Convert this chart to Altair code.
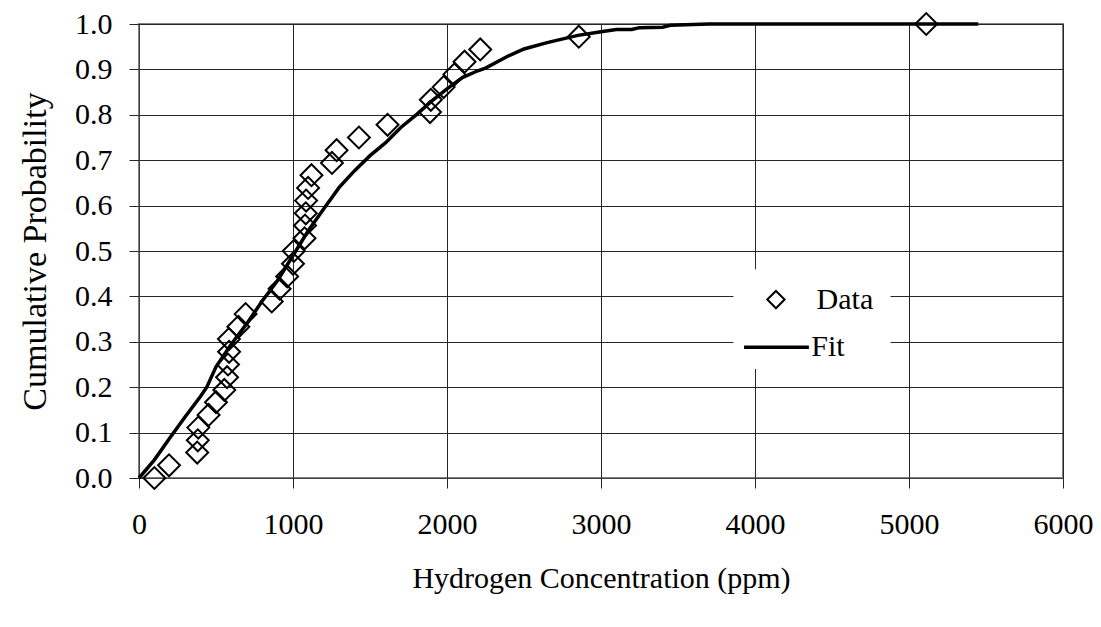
import altair as alt
import pandas as pd

# Data series
data_x = [100, 195, 378, 382, 385, 452, 500, 554, 572, 578, 585, 584, 645, 692,
          862, 913, 962, 1000, 1005, 1075, 1078, 1083, 1085, 1098, 1120, 1253,
          1283, 1428, 1614, 1890, 1895, 1978, 2048, 2114, 2216, 2856, 5112]
data_y = [0.000, 0.028, 0.056, 0.083, 0.111, 0.139, 0.167, 0.194, 0.222, 0.250,
          0.278, 0.306, 0.333, 0.361, 0.389, 0.417, 0.444, 0.472, 0.500, 0.528,
          0.556, 0.583, 0.611, 0.639, 0.667, 0.694, 0.722, 0.750, 0.778, 0.806,
          0.833, 0.861, 0.889, 0.917, 0.944, 0.972, 1.000]

fit_x = [0, 100, 200, 300, 400, 440, 500, 600, 700, 800, 900, 1000, 1100, 1200,
         1300, 1400, 1500, 1600, 1700, 1800, 1900, 2000, 2100, 2200, 2250, 2400,
         2500, 2650, 2850, 3000, 3100, 3200, 3250, 3400, 3450, 3700, 5450]
fit_y = [0.0, 0.04, 0.088, 0.135, 0.18, 0.2, 0.245, 0.295, 0.34, 0.39, 0.435,
         0.49, 0.545, 0.593, 0.64, 0.677, 0.71, 0.738, 0.772, 0.80, 0.83, 0.857,
         0.882, 0.897, 0.903, 0.93, 0.945, 0.959, 0.975, 0.983, 0.988, 0.988,
         0.992, 0.993, 0.997, 1.0, 1.0]

x_ticks = [0, 1000, 2000, 3000, 4000, 5000, 6000]
y_ticks = [0.0, 0.1, 0.2, 0.3, 0.4, 0.5, 0.6, 0.7, 0.8, 0.9, 1.0]

legend_labels = ["Data", "Fit"]

FONT = "Liberation Serif"
FS = 30

df_data = pd.DataFrame({"x": data_x, "y": data_y})
df_fit = pd.DataFrame({"x": fit_x, "y": fit_y})

xscale = alt.Scale(domain=[0, 6000], nice=False, zero=False)
yscale = alt.Scale(domain=[0, 1], nice=False, zero=False)

xaxis = alt.Axis(values=x_ticks, format="d", title="Hydrogen Concentration (ppm)",
                 titleY=100, titleBaseline="middle", labelPadding=21)
yaxis = alt.Axis(values=y_ticks, format=".1f", title="Cumulative Probability",
                 titleX=-104, titleY=227, titleBaseline="middle", titleFontSize=34,
                 labelPadding=17)

X = alt.X("x:Q", scale=xscale, axis=xaxis)
Y = alt.Y("y:Q", scale=yscale, axis=yaxis)

points = alt.Chart(df_data).mark_point(
    shape="diamond", size=480, filled=False, stroke="black", strokeWidth=2, opacity=1
).encode(x=X, y=Y)

line = alt.Chart(df_fit).mark_line(color="black", strokeWidth=3.5).encode(x=X, y=Y)

# Legend (box inside the plot area, drawn in data coordinates)
df_leg_box = pd.DataFrame({"x": [3860], "x2": [4880], "y": [0.24], "y2": [0.46]})
leg_box = alt.Chart(df_leg_box).mark_rect(color="white").encode(
    x=alt.X("x:Q", scale=xscale), x2="x2:Q",
    y=alt.Y("y:Q", scale=yscale), y2="y2:Q")

df_leg_pt = pd.DataFrame({"x": [4136], "y": [0.393]})
leg_pt = alt.Chart(df_leg_pt).mark_point(
    shape="diamond", size=300, filled=False, stroke="black", strokeWidth=2, opacity=1
).encode(x=alt.X("x:Q", scale=xscale), y=alt.Y("y:Q", scale=yscale))

df_leg_ln = pd.DataFrame({"x": [3929], "x2": [4350], "y": [0.288]})
leg_ln = alt.Chart(df_leg_ln).mark_rule(color="black", strokeWidth=3.5).encode(
    x=alt.X("x:Q", scale=xscale), x2="x2:Q", y=alt.Y("y:Q", scale=yscale))

df_leg_txt = pd.DataFrame({"x": [4400, 4365], "y": [0.393, 0.288], "t": legend_labels})
leg_txt = alt.Chart(df_leg_txt).mark_text(
    align="left", baseline="middle", font=FONT, fontSize=FS, color="black"
).encode(x=alt.X("x:Q", scale=xscale), y=alt.Y("y:Q", scale=yscale), text="t:N")

chart = alt.layer(points, line, leg_box, leg_pt, leg_ln, leg_txt).properties(
    width=924, height=454,
    autosize=alt.AutoSizeParams(type="none"),
    padding={"left": 131, "top": 16, "right": 30, "bottom": 130},
).configure_view(
    stroke="#808080", strokeWidth=2
).configure_axis(
    grid=True, gridColor="#262626", gridWidth=1, gridOpacity=1,
    domainColor="#404040", domainWidth=1,
    tickColor="#262626", tickSize=10, tickWidth=1,
    labelFont=FONT, labelFontSize=FS, labelColor="black",
    titleFont=FONT, titleFontSize=FS, titleFontWeight="normal", titleColor="black",
    labelOverlap=False, labelFlush=False
)

chart.save("out.html", embed_options={"renderer": "svg", "actions": False})
